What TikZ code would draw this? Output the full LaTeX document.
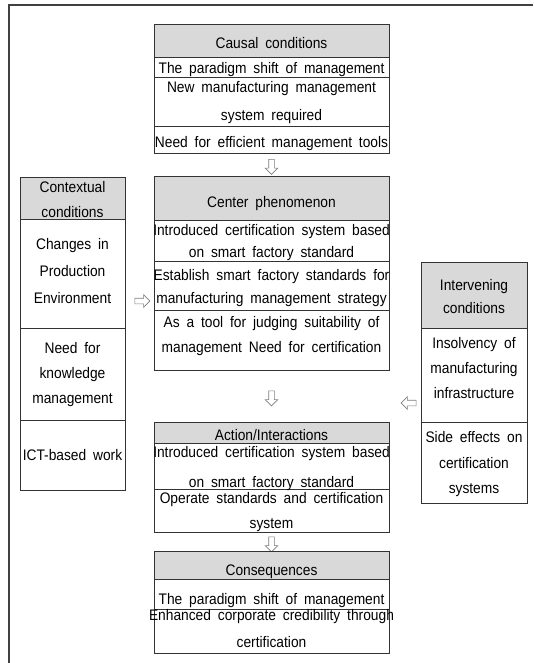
\documentclass[tikz,border=0pt]{standalone}
\usepackage{fontspec}
\setmainfont[FakeStretch=0.9, WordSpace=1.8]{Liberation Sans}
\usetikzlibrary{shapes.arrows}
\definecolor{hdrgray}{RGB}{217,217,217}
\definecolor{arrgray}{RGB}{125,125,125}
\tikzset{
	hdr/.style={draw=black!80, fill=hdrgray, line width=0.8pt},
	cell/.style={draw=black!80, line width=0.8pt},
	txt/.style={anchor=base, inner sep=0pt, font=\fontsize{15.3}{17}\selectfont},
	blk/.style={single arrow, draw=arrgray, fill=white, line width=0.6pt, minimum height=15pt, inner sep=2.5pt, single arrow head extend=3.5pt}
}

\begin{document}
\begin{tikzpicture}[x=1pt, y=-1pt]
			%%%%% START %%%%%
			\useasboundingbox (0, 0) rectangle (533, 663);
			
			\draw[line width=2pt, color=black!75] (533, 5) -- (9, 5) -- (9, 663);
			
			%% causal conditions
			\draw[hdr] (154, 24) rectangle (389, 57);
			\draw[cell] (154, 57) rectangle (389, 77);
			\draw[cell] (154, 77) rectangle (389, 126);
			\draw[cell] (154, 126) rectangle (389, 153);
			\node[txt] (causH) at (271.5, 49) {Causal conditions};
			\node[txt] (caus1) at (271.5, 74) {The paradigm shift of management};
			\node[txt] (caus2a) at (271.5, 93) {New manufacturing management};
			\node[txt] (caus2b) at (271.5, 121) {system required};
			\node[txt] (caus3) at (271.5, 148) {Need for efficient management tools};
			
			\node[blk, shape border rotate=270] (arrA) at (271.5, 165.5) {};
			
			%% center phenomenon
			\draw[hdr] (154, 176) rectangle (389, 220);
			\draw[cell] (154, 220) rectangle (389, 261);
			\draw[cell] (154, 261) rectangle (389, 310);
			\draw[cell] (154, 310) rectangle (389, 370);
			\node[txt] (cenH) at (271.5, 207) {Center phenomenon};
			\node[txt] (cen1a) at (271.5, 235) {Introduced certification system based};
			\node[txt] (cen1b) at (271.5, 257) {on smart factory standard};
			\node[txt] (cen2a) at (271.5, 280) {Establish smart factory standards for};
			\node[txt] (cen2b) at (271.5, 303) {manufacturing management strategy};
			\node[txt] (cen3a) at (271.5, 327) {As a tool for judging suitability of};
			\node[txt] (cen3b) at (271.5, 352) {management Need for certification};
			
			\node[blk, shape border rotate=270] (arrB) at (271.5, 397) {};
			
			%% action / interactions
			\draw[hdr] (154, 422) rectangle (389, 443);
			\draw[cell] (154, 443) rectangle (389, 489);
			\draw[cell] (154, 489) rectangle (389, 532);
			\node[txt] (actH) at (271.5, 440) {Action/Interactions};
			\node[txt] (act1a) at (271.5, 457) {Introduced certification system based};
			\node[txt] (act1b) at (271.5, 487) {on smart factory standard};
			\node[txt] (act2a) at (271.5, 503) {Operate standards and certification};
			\node[txt] (act2b) at (271.5, 528) {system};
			
			\node[blk, shape border rotate=270] (arrC) at (271.5, 543) {};
			
			%% consequences
			\draw[hdr] (154, 551) rectangle (389, 579);
			\draw[cell] (154, 579) rectangle (389, 609);
			\draw[cell] (154, 609) rectangle (389, 653);
			\node[txt] (conH) at (271.5, 575) {Consequences};
			\node[txt] (con1) at (271.5, 604) {The paradigm shift of management};
			\node[txt] (con2a) at (271.5, 620) {Enhanced corporate credibility through};
			\node[txt] (con2b) at (271.5, 647) {certification};
			
			%% contextual conditions
			\draw[hdr] (20, 177) rectangle (125, 219);
			\draw[cell] (20, 219) rectangle (125, 328);
			\draw[cell] (20, 328) rectangle (125, 420);
			\draw[cell] (20, 420) rectangle (125, 490);
			\node[txt] (ctxH1) at (72.5, 192) {Contextual};
			\node[txt] (ctxH2) at (72.5, 217) {conditions};
			\node[txt] (ctx1a) at (72.5, 249) {Changes in};
			\node[txt] (ctx1b) at (72.5, 276) {Production};
			\node[txt] (ctx1c) at (72.5, 303) {Environment};
			\node[txt] (ctx2a) at (72.5, 353) {Need for};
			\node[txt] (ctx2b) at (72.5, 378) {knowledge};
			\node[txt] (ctx2c) at (72.5, 403) {management};
			\node[txt] (ctx3) at (72.5, 460) {ICT-based work};
			
			\node[blk] (arrL) at (141, 301) {};
			
			%% intervening conditions
			\draw[hdr] (421, 262) rectangle (527, 328);
			\draw[cell] (421, 328) rectangle (527, 422);
			\draw[cell] (421, 422) rectangle (527, 503);
			\node[txt] (intH1) at (474, 290) {Intervening};
			\node[txt] (intH2) at (474, 313) {conditions};
			\node[txt] (int1a) at (474, 348) {Insolvency of};
			\node[txt] (int1b) at (474, 373) {manufacturing};
			\node[txt] (int1c) at (474, 398) {infrastructure};
			\node[txt] (int2a) at (474, 442) {Side effects on};
			\node[txt] (int2b) at (474, 468) {certification};
			\node[txt] (int2c) at (474, 493) {systems};
			
			\node[blk, shape border rotate=180] (arrR) at (410, 403) {};
			
			%%%%% END %%%%%
\end{tikzpicture}
\end{document}
